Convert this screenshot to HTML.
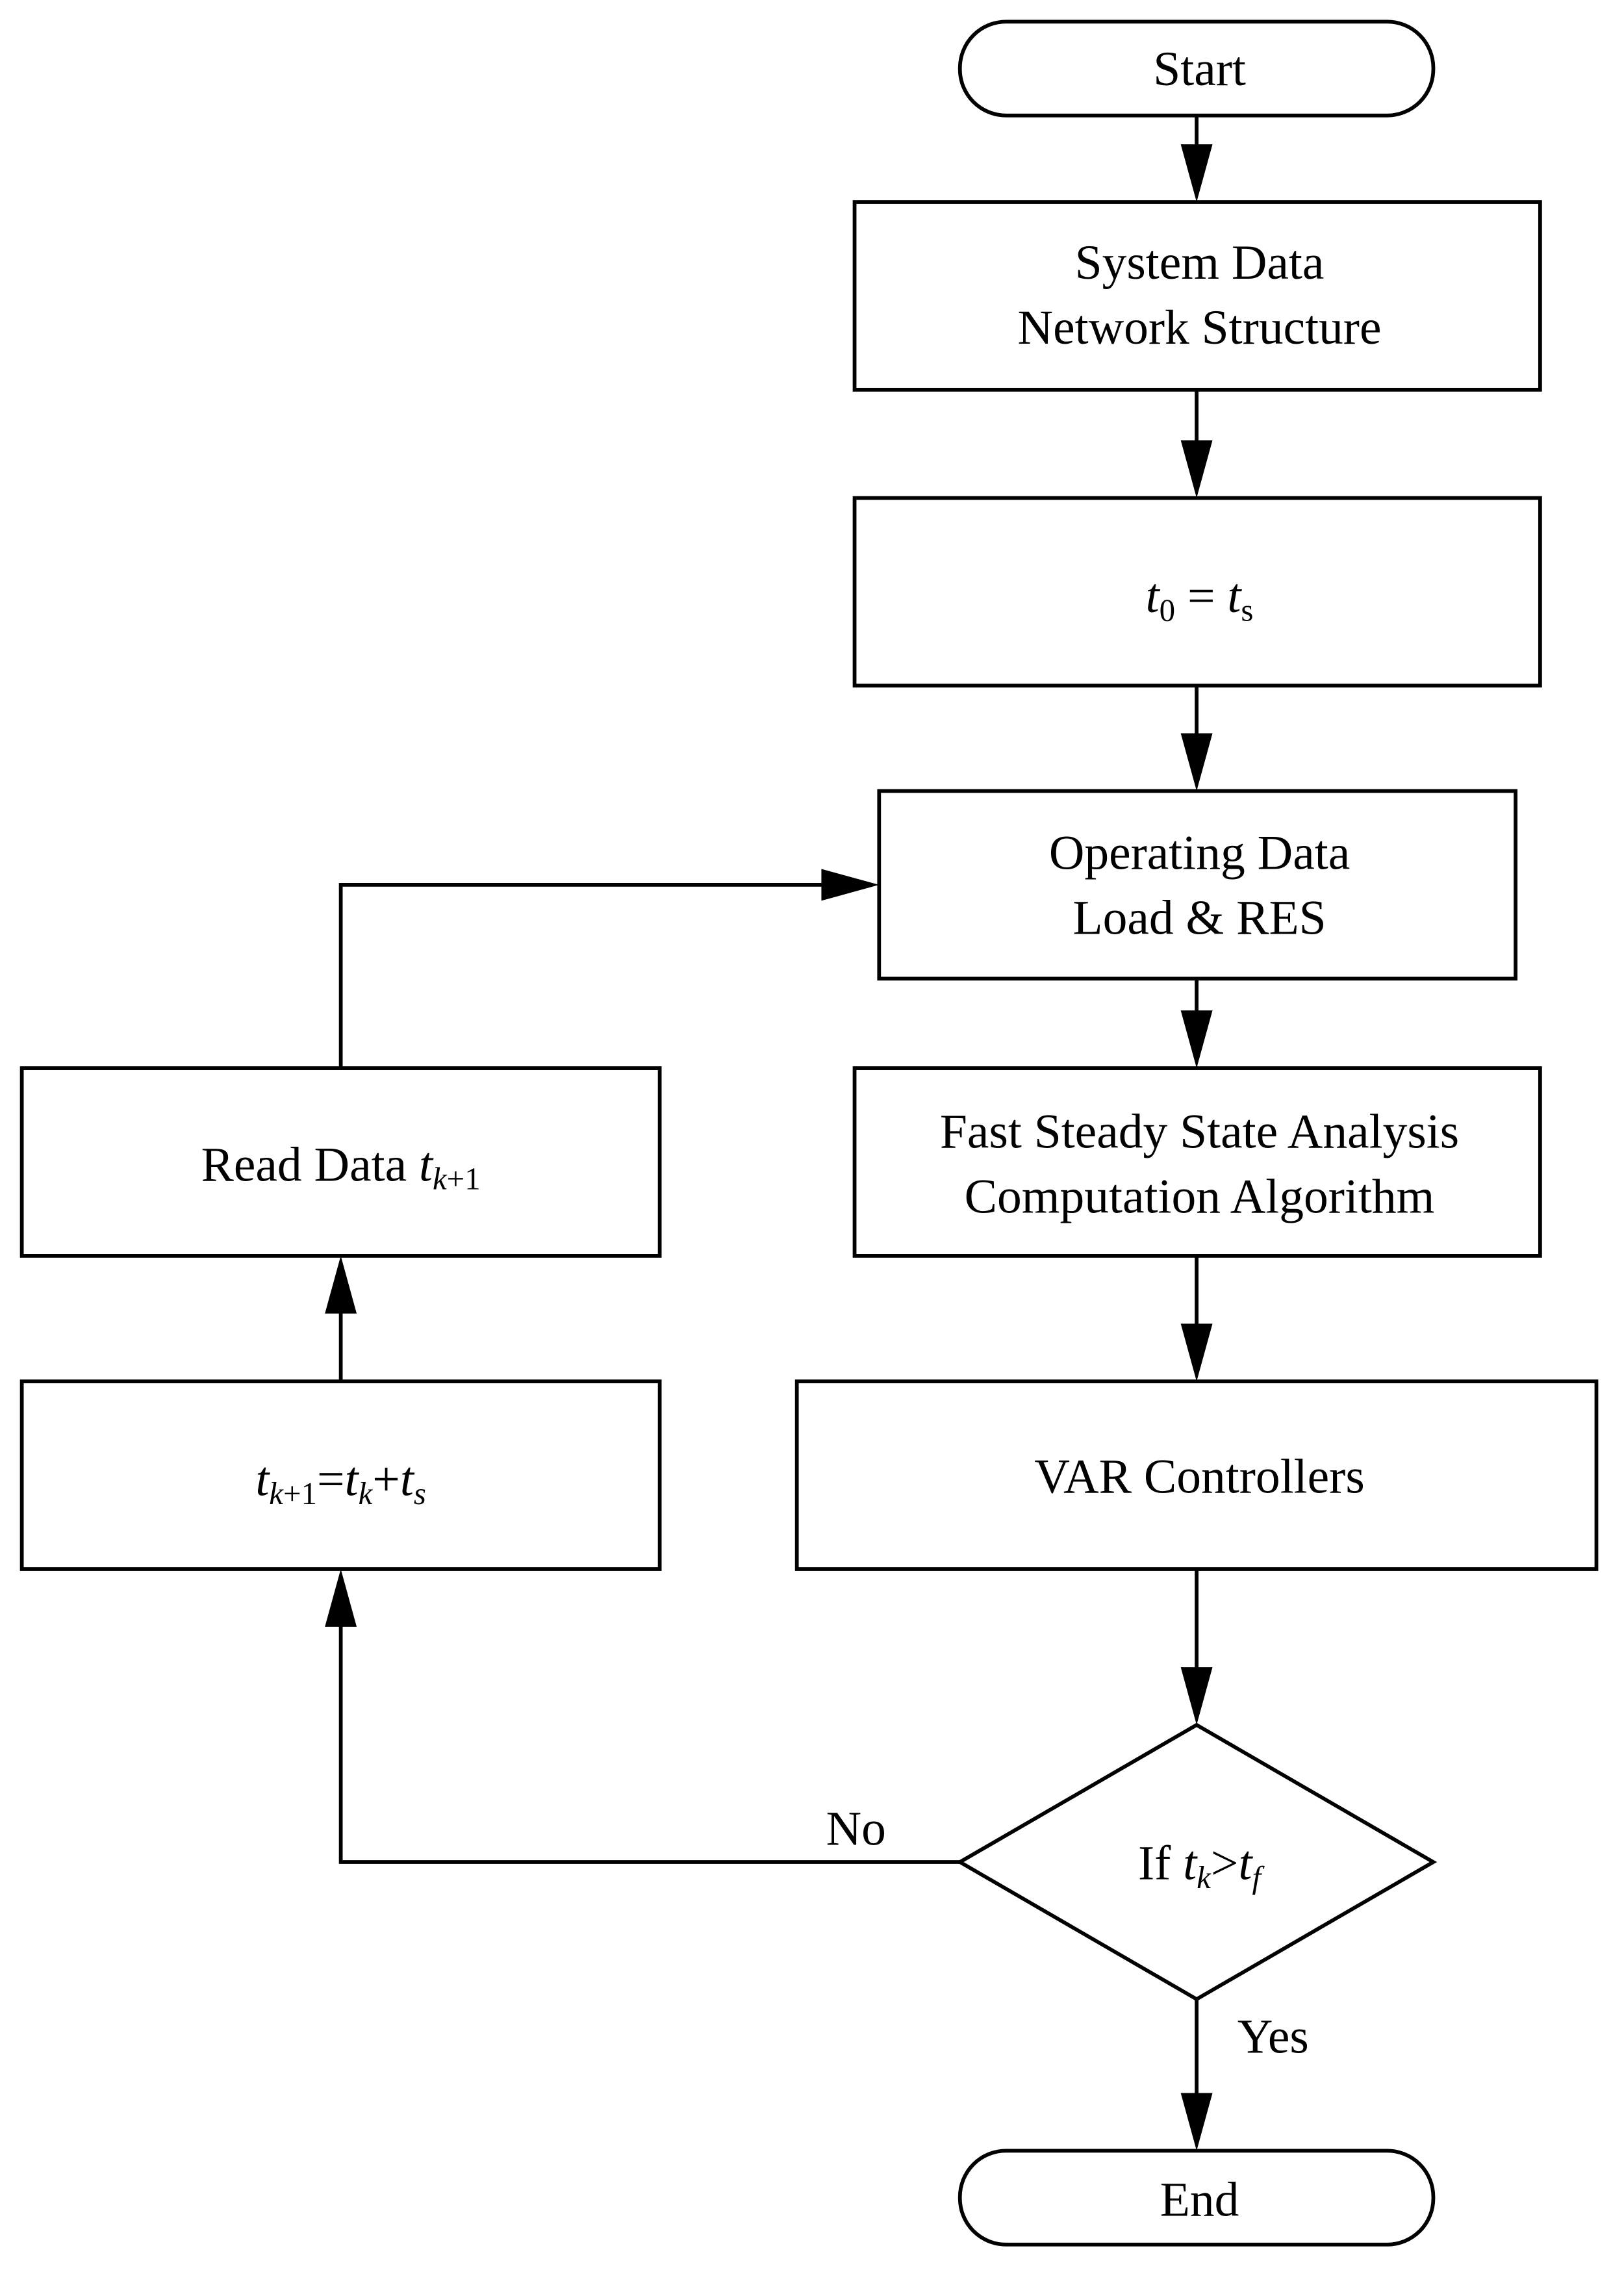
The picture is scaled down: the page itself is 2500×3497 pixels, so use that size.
<!DOCTYPE html>
<html><head><meta charset="utf-8"><style>
html,body{margin:0;padding:0;background:#fff;}
svg{display:block;}
text{font-family:"Liberation Serif",serif;font-size:34px;fill:#000;}
</style></head><body>
<svg width="2500" height="3497" viewBox="0 0 1125 1574" xmlns="http://www.w3.org/2000/svg">
<g fill="none" stroke="#000" stroke-width="2.6">
<rect x="665" y="15" width="328" height="65" rx="32"/>
<rect x="592" y="140" width="475" height="130"/>
<rect x="592" y="345" width="475" height="130"/>
<rect x="609" y="548" width="441" height="130"/>
<rect x="592" y="740" width="475" height="130"/>
<rect x="552" y="957" width="554" height="130"/>
<path d="M829,1195 L993,1290 L829,1385 L665,1290 Z"/>
<rect x="665" y="1490" width="328" height="65" rx="32"/>
<rect x="15" y="740" width="442" height="130"/>
<rect x="15" y="957" width="442" height="130"/>
</g>
<g stroke="#000" stroke-width="2.6" fill="none">
<line x1="829" y1="80" x2="829" y2="105"/>
<line x1="829" y1="270" x2="829" y2="310"/>
<line x1="829" y1="475" x2="829" y2="513"/>
<line x1="829" y1="678" x2="829" y2="705"/>
<line x1="829" y1="870" x2="829" y2="922"/>
<line x1="829" y1="1087" x2="829" y2="1160"/>
<line x1="829" y1="1385" x2="829" y2="1455"/>
<polyline points="665,1290 236,1290 236,1122"/>
<line x1="236" y1="957" x2="236" y2="905"/>
<polyline points="236,740 236,613 574,613"/>
</g>
<g fill="#000">
<path d="M818,100 L840,100 L829,140 Z"/>
<path d="M818,305 L840,305 L829,345 Z"/>
<path d="M818,508 L840,508 L829,548 Z"/>
<path d="M818,700 L840,700 L829,740 Z"/>
<path d="M818,917 L840,917 L829,957 Z"/>
<path d="M818,1155 L840,1155 L829,1195 Z"/>
<path d="M818,1450 L840,1450 L829,1490 Z"/>
<path d="M225,1127 L247,1127 L236,1087 Z"/>
<path d="M225,910 L247,910 L236,870 Z"/>
<path d="M569,602 L569,624 L609,613 Z"/>
</g>
<g text-anchor="middle">
<text x="831" y="59">Start</text>
<text x="831" y="193">System Data</text>
<text x="831" y="238">Network Structure</text>
<text x="831" y="424"><tspan font-style="italic">t</tspan><tspan font-size="22" dy="6">0</tspan><tspan dy="-6"> = </tspan><tspan font-style="italic">t</tspan><tspan font-size="22" dy="6">s</tspan></text>
<text x="831" y="602">Operating Data</text>
<text x="831" y="647">Load &amp; RES</text>
<text x="831" y="795">Fast Steady State Analysis</text>
<text x="831" y="840">Computation Algorithm</text>
<text x="831" y="1034">VAR Controllers</text>
<text x="236" y="818">Read Data <tspan font-style="italic">t</tspan><tspan font-size="22" dy="6"><tspan font-style="italic">k</tspan>+1</tspan></text>
<text x="236" y="1036"><tspan font-style="italic">t</tspan><tspan font-size="22" dy="6"><tspan font-style="italic">k</tspan>+1</tspan><tspan dy="-6">=</tspan><tspan font-style="italic">t</tspan><tspan font-size="22" dy="6" font-style="italic">k</tspan><tspan dy="-6">+</tspan><tspan font-style="italic">t</tspan><tspan font-size="22" dy="6" font-style="italic">s</tspan></text>
<text x="831" y="1302">If <tspan font-style="italic">t</tspan><tspan font-size="22" dy="6" font-style="italic">k</tspan><tspan dy="-6">&gt;</tspan><tspan font-style="italic">t</tspan><tspan font-size="22" dy="6" font-style="italic">f</tspan></text>
<text x="593" y="1278">No</text>
<text x="882" y="1422">Yes</text>
<text x="831" y="1535">End</text>
</g>
</svg>
</body></html>
